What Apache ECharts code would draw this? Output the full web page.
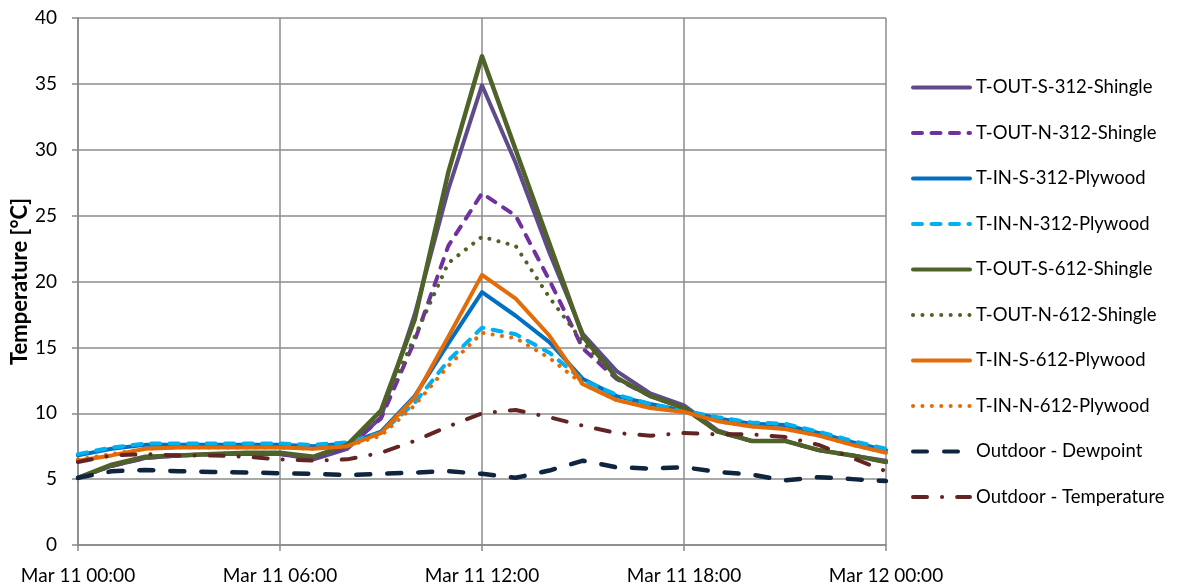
<!DOCTYPE html>
<html>
<head>
<meta charset="utf-8">
<script src="https://cdn.jsdelivr.net/npm/echarts@6/dist/echarts.min.js"></script>
<style>
html,body{margin:0;padding:0;background:#fff;}
#chart{width:1185px;height:588px;}
</style>
</head>
<body>
<div id="chart"></div>
<script>
const hours = [0,1,2,3,4,5,6,7,8,9,10,11,12,13,14,15,16,17,18,19,20,21,22,23,24];
const xTickLabels = ["Mar 11 00:00","Mar 11 06:00","Mar 11 12:00","Mar 11 18:00","Mar 12 00:00"];
const seriesNames = ["T-OUT-S-312-Shingle","T-OUT-N-312-Shingle","T-IN-S-312-Plywood","T-IN-N-312-Plywood","T-OUT-S-612-Shingle","T-OUT-N-612-Shingle","T-IN-S-612-Plywood","T-IN-N-612-Plywood","Outdoor - Dewpoint","Outdoor - Temperature"];

const tOutS312 = [5.1,6.0,6.6,6.8,6.9,6.9,6.9,6.5,7.3,9.7,17.5,27.0,34.9,29.0,22.2,16.0,13.2,11.5,10.6,8.7,7.9,7.9,7.2,6.8,6.4];
const tOutN312 = [5.1,6.0,6.6,6.8,6.9,6.9,6.9,6.6,7.4,9.6,15.5,22.7,26.7,25.0,20.1,14.9,12.6,11.3,10.4,8.6,7.9,7.9,7.2,6.8,6.3];
const tInS312  = [6.8,7.3,7.6,7.6,7.6,7.6,7.6,7.5,7.7,8.6,11.3,15.3,19.2,17.4,15.4,12.6,11.3,10.7,10.2,9.6,9.2,9.1,8.5,7.8,7.2];
const tInN312  = [6.9,7.4,7.7,7.7,7.7,7.7,7.7,7.6,7.8,8.5,10.8,14.0,16.5,16.0,14.6,12.5,11.4,10.7,10.2,9.7,9.3,9.2,8.6,7.9,7.3];
const tOutS612 = [5.1,6.1,6.7,6.8,6.9,7.0,7.0,6.7,7.6,10.2,17.1,28.3,37.1,30.0,22.9,15.8,12.7,11.3,10.4,8.6,7.9,7.9,7.2,6.8,6.3];
const tOutN612 = [5.1,6.0,6.7,6.8,6.9,7.0,7.0,6.7,7.6,10.1,15.8,21.4,23.4,22.7,18.8,15.4,12.7,11.3,10.4,8.6,7.9,7.9,7.2,6.8,6.3];
const tInS612  = [6.4,6.8,7.3,7.4,7.4,7.4,7.4,7.3,7.5,8.5,11.2,15.8,20.5,18.7,15.9,12.2,11.0,10.4,10.1,9.4,9.0,8.8,8.3,7.6,7.0];
const tInN612  = [6.5,6.9,7.3,7.4,7.4,7.4,7.4,7.3,7.5,8.3,10.6,13.6,16.1,15.7,14.2,12.2,11.0,10.4,10.1,9.4,9.0,8.8,8.3,7.6,7.0];
const dewpoint = [5.1,5.6,5.7,5.6,5.55,5.5,5.45,5.4,5.3,5.4,5.5,5.6,5.4,5.1,5.65,6.4,5.9,5.8,5.9,5.55,5.35,4.9,5.15,5.0,4.85];
const outdoorT = [6.3,6.8,6.9,6.8,6.8,6.7,6.5,6.4,6.5,7.0,7.9,9.0,10.0,10.25,9.7,9.05,8.5,8.3,8.5,8.4,8.4,8.2,7.6,6.6,5.6];

const values = [tOutS312,tOutN312,tInS312,tInN312,tOutS612,tOutN612,tInS612,tInN612,dewpoint,outdoorT];
const styles = [
  {color:'#5F4B8B', type:'solid', width:4},
  {color:'#7030A0', type:[9,9.5], width:4},
  {color:'#0070C0', type:'solid', width:4},
  {color:'#00B0F0', type:[9,9.5], width:4},
  {color:'#4F6228', type:'solid', width:4.5},
  {color:'#4F6228', type:[0.1,9.3], width:4},
  {color:'#E36C09', type:'solid', width:4},
  {color:'#E36C09', type:[0.1,9.3], width:4},
  {color:'#0F243E', type:[14,17], width:4.5},
  {color:'#632523', type:[14,15,0.1,15], width:4}
];

const font = 'Lato';
const series = seriesNames.map((n,i)=>({
  name:n, type:'line', showSymbol:false, symbol:'none', animation:false,
  data: hours.map((h,k)=>[h, values[i][k]]),
  lineStyle:{color:styles[i].color, type:styles[i].type, width:styles[i].width, cap:'round', join:'round'},
  itemStyle:{color:styles[i].color}
}));

const chart = echarts.init(document.getElementById('chart'));
chart.setOption({
  backgroundColor:'#fff',
  animation:false,
  grid:{left:78, right:299, top:18, bottom:43, containLabel:false, outerBoundsMode:'none'},
  legend:{
    orient:'vertical', left:906, top:73, itemWidth:57, itemHeight:20, itemGap:26.5,
    data:seriesNames,
    itemStyle:{opacity:0},
    lineStyle:{opacity:1, width:4, cap:'round'},
    textStyle:{fontFamily:font, fontSize:18.5, color:'#000', padding:[0,0,0,1]}
  },
  xAxis:{
    type:'value', min:0, max:24, interval:6,
    axisLine:{lineStyle:{color:'#888', width:1.5}},
    axisTick:{show:true, length:6, lineStyle:{color:'#888', width:1.5}},
    splitLine:{show:true, lineStyle:{color:'#8c8c8c', width:1.5}},
    axisLabel:{margin:21, fontFamily:font, fontSize:19, color:'#000',
      formatter:(v)=>xTickLabels[Math.round(v/6)]}
  },
  yAxis:{
    type:'value', min:0, max:40, interval:5,
    name:'Temperature [°C]', nameLocation:'middle', nameGap:47, nameMoveOverlap:false,
    nameTextStyle:{fontFamily:font, fontSize:22, fontWeight:'bold', color:'#000'},
    axisLine:{show:true, lineStyle:{color:'#888', width:1.5}},
    axisTick:{show:true, length:6, lineStyle:{color:'#888', width:1.5}},
    splitLine:{show:true, lineStyle:{color:'#8c8c8c', width:1.5}},
    axisLabel:{margin:21, fontFamily:font, fontSize:19, color:'#000'}
  },
  series:series
});
</script>
</body>
</html>
